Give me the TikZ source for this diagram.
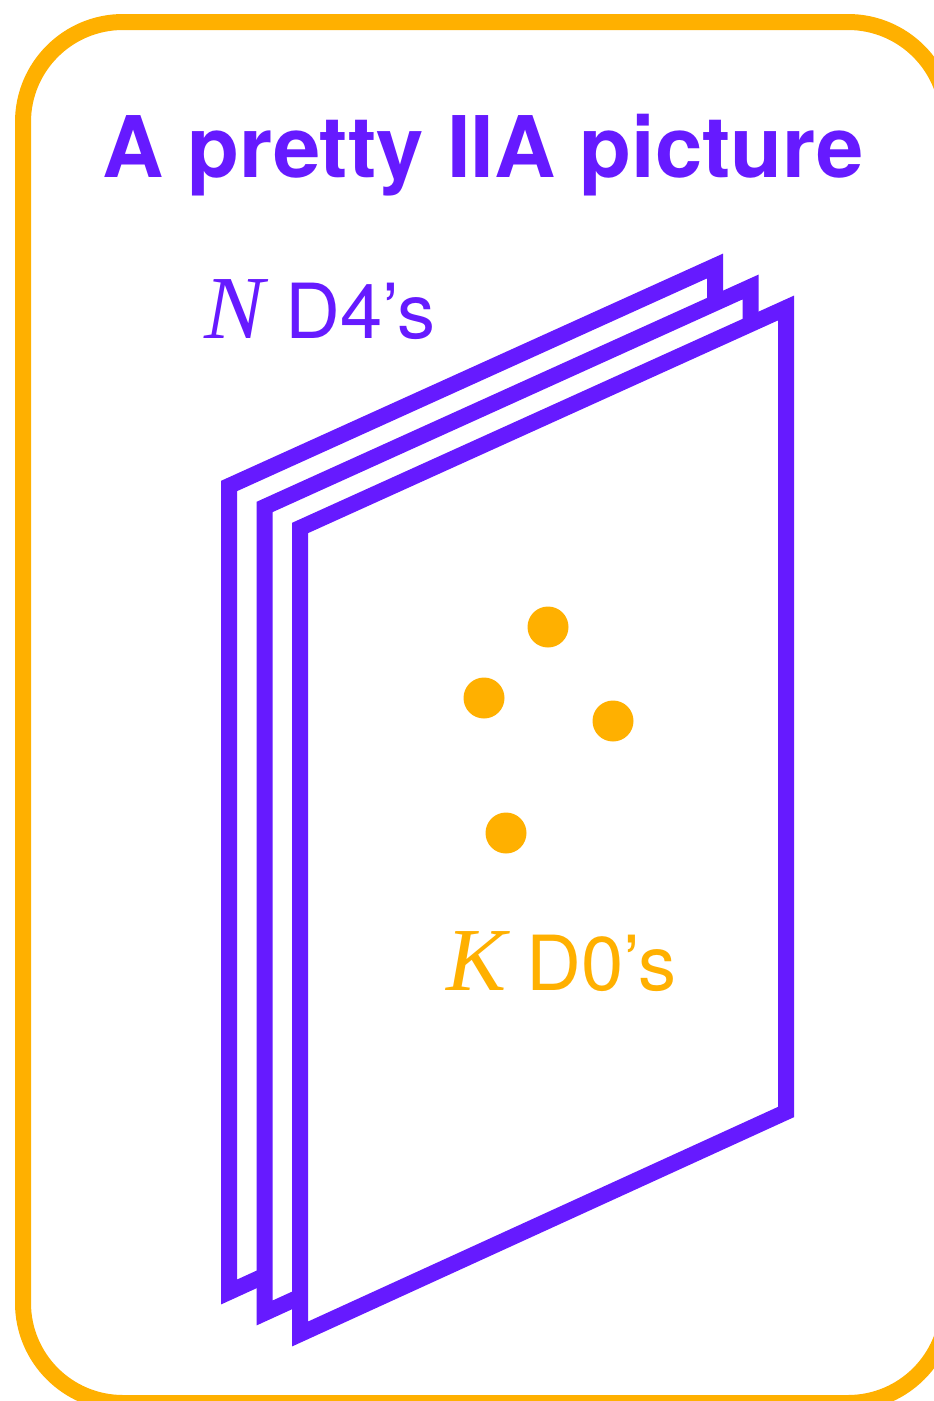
\documentclass[tikz,border=0pt]{standalone}
\usepackage{fontspec}
\setmainfont{Liberation Serif}
\setsansfont{TeX Gyre Heros}
\definecolor{pplum}{RGB}{102,26,255}
\definecolor{gold}{RGB}{255,176,0}
\tikzset{
  plane/.style={draw=pplum, fill=white, line width=16pt, line join=miter},
  dzero/.style={fill=gold},
  lbl/.style={inner sep=0pt, anchor=base west},
}
\newcommand{\varlbl}[3]{\makebox[#1][l]{\fontsize{90}{100}\selectfont\textit{#2}}{\sffamily\fontsize{76}{90}\selectfont #3}}
\begin{document}
\begin{tikzpicture}[x=1pt,y=-1pt]
\clip (0,0) rectangle (934,1401);
\useasboundingbox (0,0) rectangle (934,1401);
\fill[white] (0,0) rectangle (934,1401);
% frame
\draw[gold, line width=16pt, rounded corners=100pt] (23,22) rectangle (948,1403);
% title
\node[inner sep=0pt, anchor=base] (title) at (483,177)
  {\sffamily\bfseries\fontsize{85}{100}\selectfont\color{pplum}A pretty IIA picture};
% planes (back to front)
\foreach \k in {2,1,0} {
  \pgfmathsetmacro{\dx}{-35.5*\k}
  \pgfmathsetmacro{\dy}{-21*\k}
  \begin{scope}[shift={(\dx,\dy)}]
    \draw[plane] (300,528) -- (786,308) -- (786,1112) -- (300,1334) -- cycle;
  \end{scope}
}
% D0 dots
\fill[dzero] (548,627) circle (20.5);
\fill[dzero] (484,698) circle (20.5);
\fill[dzero] (613,721) circle (20.5);
\fill[dzero] (506,833) circle (20.5);
% labels
\node[lbl, text=pplum] (nlabel) at (204,338) {\varlbl{81pt}{N}{D4’s}};
\node[lbl, text=gold] (klabel) at (446,990) {\varlbl{80pt}{K}{D0’s}};
\end{tikzpicture}
\end{document}
